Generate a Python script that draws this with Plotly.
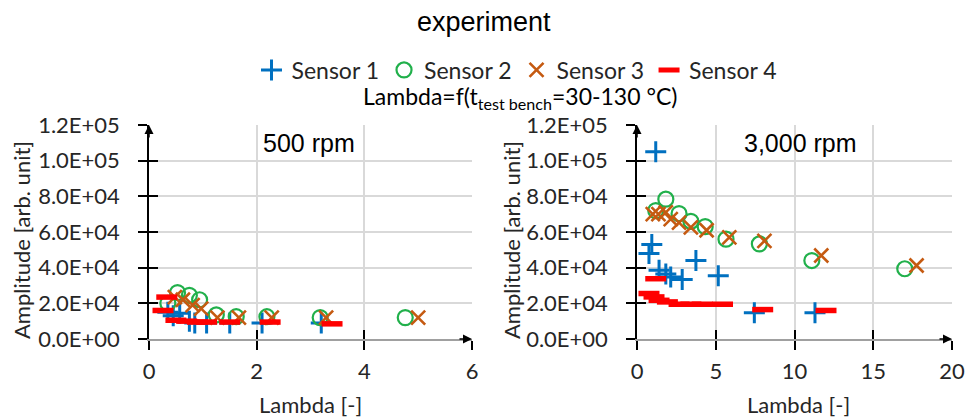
import plotly.graph_objects as go

# ---------------- data ----------------
# 500 rpm panel
s1_500_x = [0.35, 0.45, 0.57, 0.75, 0.85, 1.07, 1.5, 2.1, 3.2]
s1_500_y = [15000, 13000, 14500, 10000, 9000, 9000, 9000, 9000, 9000]
s2_500_x = [0.35, 0.53, 0.75, 0.94, 1.25, 1.62, 2.19, 3.18, 4.76]
s2_500_y = [20000, 26000, 24500, 22000, 13500, 12500, 12500, 12000, 12000]
s3_500_x = [0.48, 0.63, 0.81, 0.97, 1.27, 1.67, 2.28, 3.29, 5.0]
s3_500_y = [23500, 22000, 19000, 17000, 12000, 12000, 12000, 12000, 12000]
s4_500_x = [0.33, 0.26, 0.5, 0.7, 0.9, 1.07, 1.5, 2.25, 3.4]
s4_500_y = [23500, 16000, 10500, 10000, 9500, 9500, 9500, 9500, 8500]

# 3,000 rpm panel
s1_3000_x = [1.19, 0.94, 0.76, 1.4, 1.83, 2.14, 2.87, 3.74, 5.16, 7.45, 11.3]
s1_3000_y = [105000, 53000, 48000, 38500, 36500, 34700, 33400, 44000, 35500, 14700, 14700]
s2_3000_x = [1.19, 1.83, 2.67, 3.42, 4.33, 5.65, 7.77, 11.1, 17.0]
s2_3000_y = [72000, 78400, 70300, 66000, 63000, 56000, 53300, 44000, 39400]
s3_3000_x = [1.0, 1.36, 1.83, 2.14, 2.67, 3.42, 4.42, 5.86, 8.09, 11.7, 17.75]
s3_3000_y = [70000, 70000, 71000, 67200, 65300, 62600, 61000, 57000, 55000, 46800, 41200]
s4_3000_x = [1.19, 0.76, 1.08, 1.4, 1.93, 2.67, 3.42, 4.14, 5.43, 7.98, 12.0]
s4_3000_y = [33800, 25500, 23600, 21700, 20800, 19500, 19500, 19500, 19500, 16500, 16000]

series_names = ["Sensor 1", "Sensor 2", "Sensor 3", "Sensor 4"]
y_tickvals = [0, 20000, 40000, 60000, 80000, 100000, 120000]
y_ticktext = ["0.0E+00", "2.0E+04", "4.0E+04", "6.0E+04", "8.0E+04", "1.0E+05", "1.2E+05"]
x1_tickvals = [0, 2, 4, 6]
x2_tickvals = [0, 5, 10, 15, 20]

# ---------------- styling ----------------
BLUE = "#0070c0"
GREEN = "#21b04b"
ORANGE = "#c55a11"
RED = "#ff0000"
CAL = "Lato"
ARIAL = "Liberation Sans, Arial"
TXT = "#262626"

styles = [
    dict(symbol="cross-thin", size=15, line=dict(color=BLUE, width=3), color=BLUE),
    dict(symbol="circle-open", size=15, line=dict(color=GREEN, width=2.2), color=GREEN),
    dict(symbol="x-thin", size=14, line=dict(color=ORANGE, width=2.6), color=ORANGE),
    dict(symbol="line-ew", size=15, line=dict(color=RED, width=5.5), color=RED),
]

fig = go.Figure()

data500 = [(s1_500_x, s1_500_y), (s2_500_x, s2_500_y), (s3_500_x, s3_500_y), (s4_500_x, s4_500_y)]
data3000 = [(s1_3000_x, s1_3000_y), (s2_3000_x, s2_3000_y), (s3_3000_x, s3_3000_y), (s4_3000_x, s4_3000_y)]

for i, (xs, ys) in enumerate(data500):
    fig.add_trace(go.Scatter(x=xs, y=ys, mode="markers", name=series_names[i],
                             marker=styles[i], xaxis="x", yaxis="y",
                             legendgroup=series_names[i], showlegend=True, cliponaxis=False))
for i, (xs, ys) in enumerate(data3000):
    fig.add_trace(go.Scatter(x=xs, y=ys, mode="markers", name=series_names[i],
                             marker=styles[i], xaxis="x2", yaxis="y2",
                             legendgroup=series_names[i], showlegend=False, cliponaxis=False))

ydom = [1 - 339 / 419, 1 - 125 / 419]
tickfont = dict(family=CAL, size=22, color=TXT)

common_x = dict(showgrid=True, gridcolor="#d9d9d9", gridwidth=1.5, zeroline=False,
                showline=True, linecolor="#a0a0a0", linewidth=2,
                ticks="outside", ticklen=9, tickwidth=1.5, tickcolor="black",
                tickfont=tickfont, ticklabelstandoff=3, automargin=False)
common_y = dict(range=[0, 120000], tickvals=y_tickvals, ticktext=y_ticktext,
                showgrid=True, gridcolor="#d9d9d9", gridwidth=1.5, zeroline=False,
                showline=True, linecolor="black", linewidth=1.5,
                ticks="outside", ticklen=9, tickwidth=1.5, tickcolor="black",
                tickfont=tickfont, ticklabelstandoff=14, automargin=False)
inner = dict(ticks="inside", ticklen=9, tickwidth=1.5, tickcolor="black",
             showticklabels=False, showgrid=False, zeroline=False, showline=False, automargin=False)

fig.update_layout(
    width=966, height=419,
    margin=dict(l=0, r=0, t=0, b=0, autoexpand=False),
    paper_bgcolor="white", plot_bgcolor="white",
    xaxis=dict(domain=[149 / 966, 472 / 966], range=[0, 6], tickvals=x1_tickvals, anchor="y", **common_x),
    yaxis=dict(domain=ydom, anchor="x", **common_y),
    xaxis2=dict(domain=[637 / 966, 952 / 966], range=[0, 20], tickvals=x2_tickvals, anchor="y2", **common_x),
    yaxis2=dict(domain=ydom, anchor="x2", **common_y),
    # overlay axes for inner half of "cross" ticks
    xaxis3=dict(overlaying="x", matches="x", anchor="y", range=[0, 6], tickvals=x1_tickvals, **inner),
    yaxis3=dict(overlaying="y", matches="y", anchor="x", range=[0, 120000], tickvals=y_tickvals, **inner),
    xaxis4=dict(overlaying="x2", matches="x2", anchor="y2", range=[0, 20], tickvals=x2_tickvals, **inner),
    yaxis4=dict(overlaying="y2", matches="y2", anchor="x2", range=[0, 120000], tickvals=y_tickvals, **inner),
    legend=dict(orientation="h", x=517 / 966, xanchor="center", y=1 - 70 / 419, yanchor="middle",
                font=dict(family=CAL, size=23, color=TXT), itemwidth=30,
                tracegroupgap=0, bgcolor="rgba(0,0,0,0)"),
    showlegend=True,
)

fig.add_trace(go.Scatter(x=[None], y=[None], xaxis="x3", yaxis="y3", showlegend=False, hoverinfo="skip"))
fig.add_trace(go.Scatter(x=[None], y=[None], xaxis="x4", yaxis="y4", showlegend=False, hoverinfo="skip"))

def ptext(text, x, y, font, size, angle=0, color="black"):
    return dict(text=text, xref="paper", yref="paper", x=x / 966, y=1 - y / 419,
                xanchor="center", yanchor="middle", showarrow=False, textangle=angle,
                font=dict(family=font, size=size, color=color))

annos = [
    ptext("experiment", 484, 22, ARIAL, 27),
    ptext("Lambda=f(t<sub>test bench</sub>=30-130 °C)", 520, 97, CAL, 23),
    ptext("500 rpm", 309, 143, ARIAL, 25),
    ptext("3,000 rpm", 800, 143, ARIAL, 25),
    ptext("Lambda [-]", 310, 404, CAL, 22, color=TXT),
    ptext("Lambda [-]", 798, 404, CAL, 22, color=TXT),
    ptext("Amplitude [arb. unit]", 21, 240, CAL, 22, angle=-90, color=TXT),
    ptext("Amplitude [arb. unit]", 511, 240, CAL, 22, angle=-90, color=TXT),
]
# axis arrowheads
for xr, yr, xend in [("x", "y", 6), ("x2", "y2", 20)]:
    annos.append(dict(x=xend, y=0, xref=xr, yref=yr, ax=-14, ay=0, text="", showarrow=True,
                      arrowhead=2, arrowsize=1.2, arrowwidth=1.5, arrowcolor="black"))
    annos.append(dict(x=0, y=120000, xref=xr, yref=yr, ax=0, ay=14, text="", showarrow=True,
                      arrowhead=2, arrowsize=1.2, arrowwidth=1.5, arrowcolor="black"))
fig.update_layout(annotations=annos)

fig.write_html("out.html", config={"displayModeBar": False},
               post_script="document.body.style.margin='0';")
